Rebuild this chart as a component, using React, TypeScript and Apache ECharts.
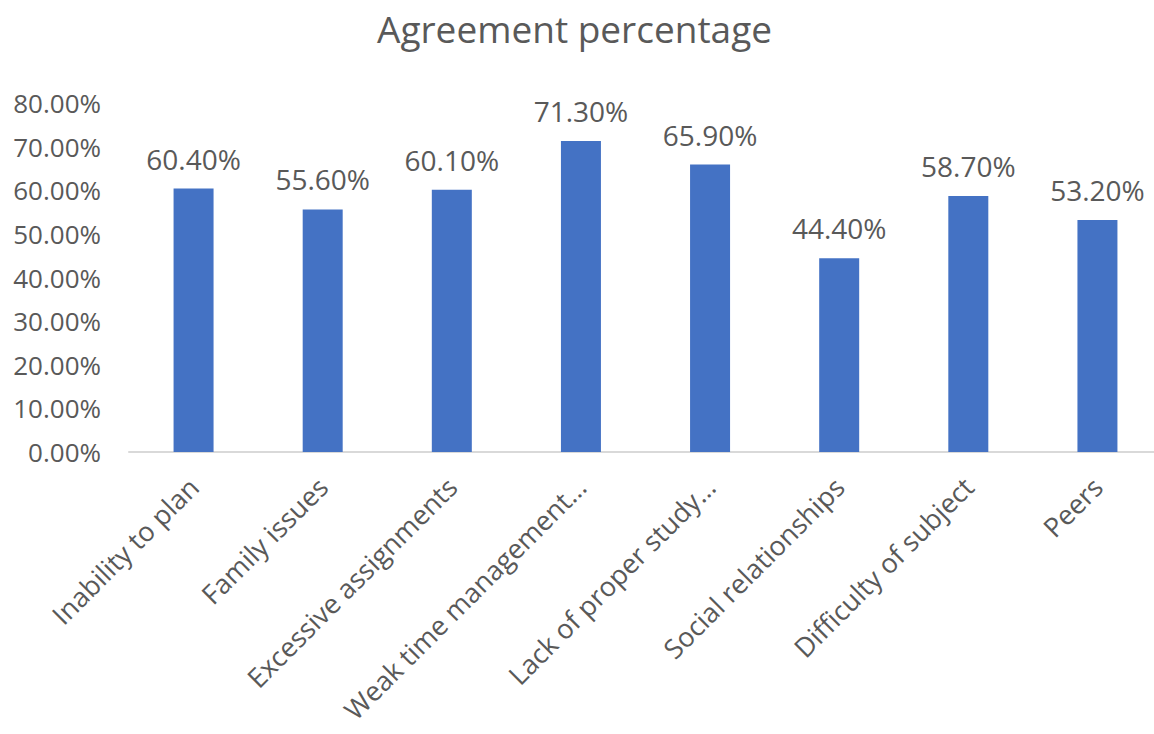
import React, { useEffect, useRef } from "react";
import * as echarts from "echarts";

const categories = [
  "Inability to plan",
  "Family issues",
  "Excessive assignments",
  "Weak time management…",
  "Lack of proper study…",
  "Social relationships",
  "Difficulty of subject",
  "Peers",
];
const values = [60.4, 55.6, 60.1, 71.3, 65.9, 44.4, 58.7, 53.2];
const yTicks = [0, 10, 20, 30, 40, 50, 60, 70, 80];

const FONT = "'Open Sans', sans-serif";
const GRAY = "#595959";

export default function App() {
  const ref = useRef<HTMLDivElement>(null);
  useEffect(() => {
    const chart = echarts.init(ref.current!, null, { renderer: "svg" });
    chart.setOption({
      animation: false,
      backgroundColor: "#ffffff",
      title: {
        text: "Agreement percentage",
        left: 372,
        top: 5,
        textStyle: { fontFamily: FONT, fontSize: 37, fontWeight: "normal", color: GRAY },
      },
      grid: {
        left: 129,
        top: 103,
        width: 1033,
        height: 349,
        outerBoundsMode: "none",
        containLabel: false,
      },
      xAxis: {
        type: "category",
        data: categories,
        axisLine: { lineStyle: { color: "#D9D9D9", width: 2 } },
        axisTick: { show: false },
        axisLabel: {
          interval: 0,
          rotate: 45,
          margin: 30,
          fontFamily: FONT,
          fontSize: 27,
          lineHeight: 27,
          color: GRAY,
        },
      },
      yAxis: {
        type: "value",
        min: yTicks[0],
        max: yTicks[yTicks.length - 1],
        interval: 10,
        splitLine: { show: false },
        axisLine: { show: false },
        axisTick: { show: false },
        axisLabel: {
          margin: 28,
          fontFamily: FONT,
          fontSize: 26,
          color: GRAY,
          formatter: (v: number) => v.toFixed(2) + "%",
        },
      },
      series: [
        {
          type: "bar",
          data: values,
          barWidth: 40,
          itemStyle: { color: "#4472C4" },
          label: {
            show: true,
            position: "top",
            distance: 16,
            fontFamily: FONT,
            fontSize: 28,
            color: GRAY,
            formatter: (p: any) => p.value.toFixed(2) + "%",
          },
        },
      ],
    });
    return () => chart.dispose();
  }, []);
  return (
    <div
      ref={ref}
      style={{ position: "absolute", left: 0, top: 0, width: 1154, height: 734, overflow: "hidden" }}
    />
  );
}
